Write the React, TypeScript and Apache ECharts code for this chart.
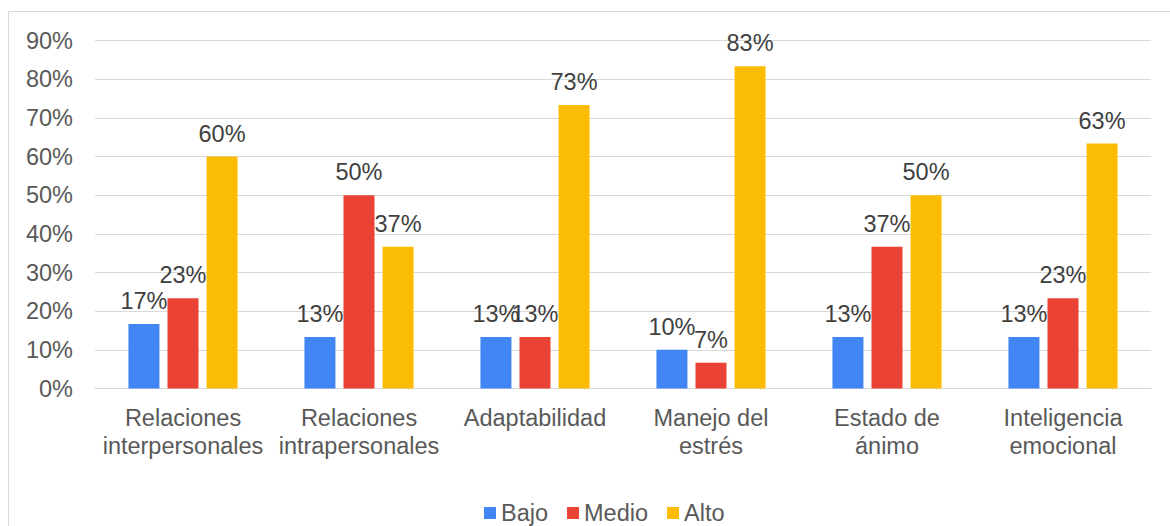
import React, { useEffect, useRef } from "react";
import * as echarts from "echarts";

const categories = [
  "Relaciones\ninterpersonales",
  "Relaciones\nintrapersonales",
  "Adaptabilidad",
  "Manejo del\nestrés",
  "Estado de\nánimo",
  "Inteligencia\nemocional",
];
const bajo = [16.67, 13.33, 13.33, 10.0, 13.33, 13.33];
const medio = [23.33, 50.0, 13.33, 6.67, 36.67, 23.33];
const alto = [60.0, 36.67, 73.33, 83.33, 50.0, 63.33];
const seriesNames = ["Bajo", "Medio", "Alto"];
const colors = ["#4285F4", "#EA4335", "#FBBC04"];

const FONT = "'Liberation Sans', Arial, sans-serif";

export default function App() {
  const ref = useRef<HTMLDivElement>(null);
  useEffect(() => {
    if (!ref.current) return;
    const chart = echarts.init(ref.current, null, { renderer: "svg" });
    const data = [bajo, medio, alto];
    chart.setOption({
      animation: false,
      backgroundColor: "#ffffff",
      textStyle: { fontFamily: FONT },
      graphic: [
        {
          type: "rect",
          shape: { x: 8.5, y: 11.5, width: 1200, height: 600 },
          style: { fill: "none", stroke: "#d9d9d9", lineWidth: 1 },
          silent: true,
        },
      ],
      grid: { left: 95, right: 19, top: 40.5, bottom: 137.5, containLabel: false },
      legend: {
        left: 484,
        top: 500,
        padding: 0,
        itemWidth: 12,
        itemHeight: 12,
        itemGap: 19,
        icon: "rect",
        textStyle: { fontFamily: FONT, fontSize: 23.5, lineHeight: 26, color: "#595959" },
        data: seriesNames,
      },
      xAxis: {
        type: "category",
        data: categories,
        axisLine: { lineStyle: { color: "#d9d9d9", width: 1 } },
        axisTick: { show: false },
        axisLabel: {
          interval: 0,
          margin: 15,
          color: "#595959",
          fontFamily: FONT,
          fontSize: 23.5,
          lineHeight: 28,
        },
      },
      yAxis: {
        type: "value",
        min: 0,
        max: 90,
        interval: 10,
        axisLine: { show: false },
        axisTick: { show: false },
        splitLine: { lineStyle: { color: "#d9d9d9", width: 1 } },
        axisLabel: {
          margin: 22,
          color: "#595959",
          fontFamily: FONT,
          fontSize: 23.5,
          formatter: (v: number) => v + "%",
        },
      },
      series: seriesNames.map((name, i) => ({
        name,
        type: "bar",
        data: data[i],
        barWidth: 31,
        barGap: "26%",
        itemStyle: { color: colors[i] },
        label: {
          show: true,
          position: "top",
          distance: 11,
          color: "#404040",
          fontFamily: FONT,
          fontSize: 23.5,
          formatter: (p: any) => Math.round(p.value) + "%",
        },
      })),
    });
    return () => chart.dispose();
  }, []);
  return (
    <div
      ref={ref}
      style={{ position: "fixed", left: 0, top: 0, width: 1170, height: 526 }}
    />
  );
}
